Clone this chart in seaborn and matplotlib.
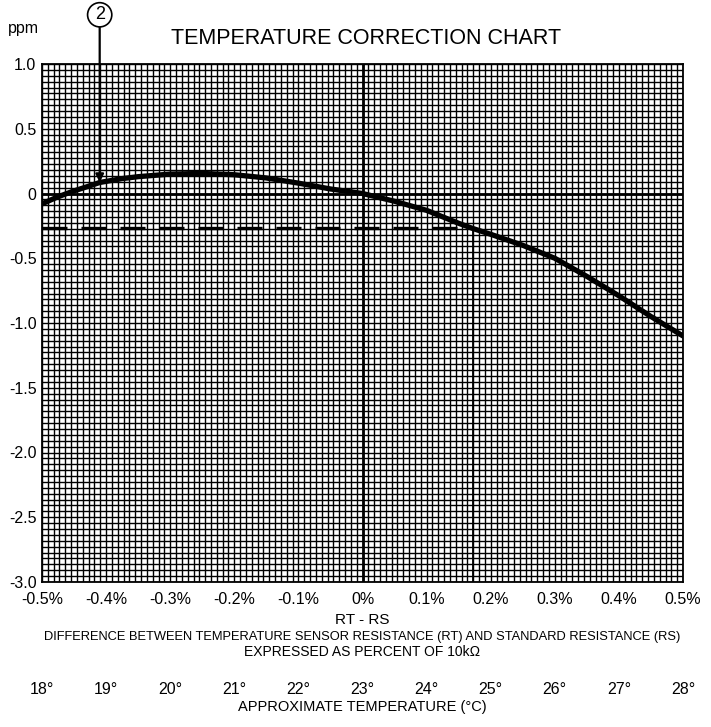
import numpy as np
import pandas as pd
import matplotlib
matplotlib.use("Agg")
import matplotlib.pyplot as plt
import seaborn as sns
from matplotlib.ticker import MultipleLocator

# ---- data ----
x_pct = [-0.50, -0.475, -0.45, -0.425, -0.41, -0.375, -0.35, -0.30, -0.25, -0.20,
         -0.15, -0.10, -0.05, 0.00, 0.05, 0.10, 0.15, 0.172, 0.20, 0.25,
         0.30, 0.35, 0.40, 0.45, 0.50]
ppm = [-0.08, -0.025, 0.02, 0.06, 0.085, 0.115, 0.13, 0.15, 0.155, 0.145,
       0.12, 0.08, 0.035, 0.00, -0.06, -0.13, -0.23, -0.27, -0.315, -0.40,
       -0.50, -0.64, -0.79, -0.95, -1.10]

x_ticks = [-0.5, -0.4, -0.3, -0.2, -0.1, 0.0, 0.1, 0.2, 0.3, 0.4, 0.5]
x_tick_labels = ["-0.5%", "-0.4%", "-0.3%", "-0.2%", "-0.1%", "0%",
                 "0.1%", "0.2%", "0.3%", "0.4%", "0.5%"]
y_ticks = [1.0, 0.5, 0.0, -0.5, -1.0, -1.5, -2.0, -2.5, -3.0]
y_tick_labels = ["1.0", "0.5", "0", "-0.5", "-1.0", "-1.5", "-2.0", "-2.5", "-3.0"]
temp_labels = ["18°", "19°", "20°", "21°", "22°", "23°", "24°", "25°", "26°", "27°", "28°"]

ref_ppm = -0.27
ref_pct = 0.172
arrow_pct = -0.41
arrow_ppm = 0.085

# ---- style ----
sns.set_theme(style="white")
plt.rcParams["font.family"] = ["Liberation Sans", "DejaVu Sans"]
plt.rcParams["axes.unicode_minus"] = False
plt.rcParams["text.color"] = "black"
plt.rcParams["xtick.color"] = "black"
plt.rcParams["ytick.color"] = "black"
plt.rcParams["axes.labelcolor"] = "black"

W, H = 711, 727
fig = plt.figure(figsize=(W / 100, H / 100), dpi=100)
fig.patch.set_facecolor("white")
ax = fig.add_axes([42 / W, (H - 582) / H, 641 / W, 518 / H])

ax.set_xlim(-0.5, 0.5)
ax.set_ylim(-3.0, 1.0)
ax.set_xticks(x_ticks)
ax.set_xticklabels(x_tick_labels, fontsize=11.5)
ax.set_yticks(y_ticks)
ax.set_yticklabels(y_tick_labels, fontsize=11.5)
ax.xaxis.set_minor_locator(MultipleLocator(0.1 / 11))
ax.yaxis.set_minor_locator(MultipleLocator(0.5 / 11))
ax.grid(which="both", color="black", linewidth=1.0)
ax.set_axisbelow(True)
ax.tick_params(which="both", length=0)
ax.tick_params(axis="x", pad=7)
ax.tick_params(axis="y", pad=4)
for s in ax.spines.values():
    s.set_color("black")
    s.set_linewidth(1.3)

# heavy reference axes
ax.axhline(0, color="black", lw=2.0)
ax.axvline(0, color="black", lw=2.0)

# curve
df = pd.DataFrame({"pct": x_pct, "ppm": ppm})
sns.lineplot(data=df, x="pct", y="ppm", color="black", lw=3.8, ax=ax, sort=True)

# dashed reference line and drop line
ax.plot([x_ticks[0], ref_pct], [ref_ppm, ref_ppm], color="black", lw=2.4,
        ls=(0, (7.5, 4.2)), solid_capstyle="butt")
ax.plot([ref_pct, ref_pct], [ref_ppm, y_ticks[-1]], color="black", lw=1.3)

ax.set_xlabel("")
ax.set_ylabel("")

# annotation (2)
ax.annotate("2", xy=(arrow_pct, arrow_ppm), xycoords="data",
            xytext=(arrow_pct, 1.095), textcoords=("data", "axes fraction"),
            ha="center", va="center", fontsize=13,
            bbox=dict(boxstyle="circle,pad=0.2", fc="white", ec="black", lw=1.2),
            arrowprops=dict(arrowstyle="-|>", color="black", lw=1.6,
                            mutation_scale=12, shrinkA=0, shrinkB=0),
            annotation_clip=False)

# texts
fig.text(366 / W, 1 - 38 / H, "TEMPERATURE CORRECTION CHART", ha="center",
         va="center", fontsize=15.5)
fig.text(8 / W, 1 - 28 / H, "ppm", ha="left", va="center", fontsize=11.5)

cx = 362.5 / W
fig.text(cx, 1 - 620 / H, "RT - RS", ha="center", va="center", fontsize=11)
fig.text(cx, 1 - 637 / H,
         "DIFFERENCE BETWEEN TEMPERATURE SENSOR RESISTANCE (RT) AND STANDARD RESISTANCE (RS)",
         ha="center", va="center", fontsize=9.3)
fig.text(cx, 1 - 652 / H, "EXPRESSED AS PERCENT OF 10kΩ", ha="center",
         va="center", fontsize=10)

trans = matplotlib.transforms.blended_transform_factory(ax.transData, fig.transFigure)
for xv, lab in zip(x_ticks, temp_labels):
    fig.text(xv, 1 - 689 / H, lab, transform=trans, ha="center", va="center",
             fontsize=11.5)
fig.text(cx, 1 - 707 / H, "APPROXIMATE TEMPERATURE (°C)", ha="center",
         va="center", fontsize=10.5)

fig.savefig("out.png", dpi=100, facecolor="white")
